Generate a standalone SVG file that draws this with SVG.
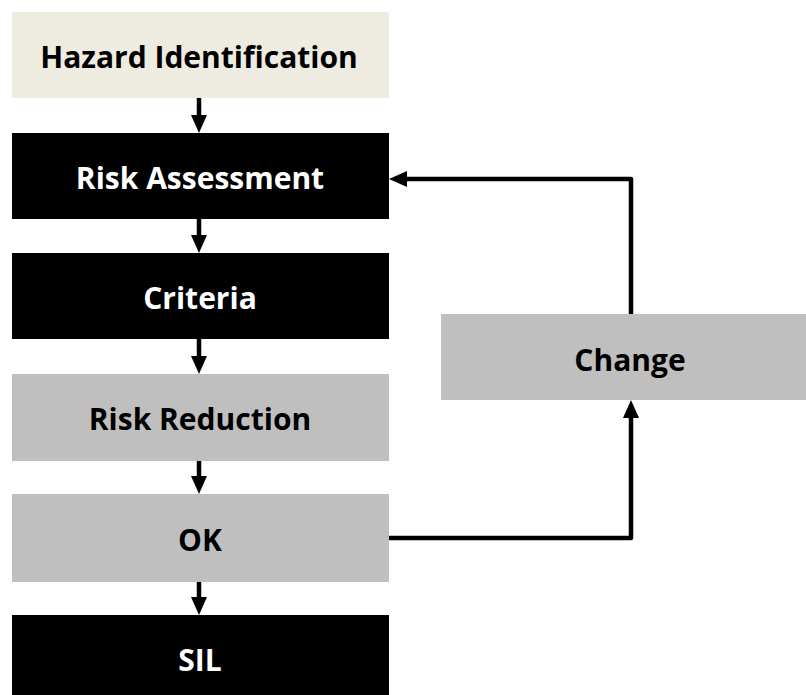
<svg xmlns="http://www.w3.org/2000/svg" width="806" height="695" viewBox="0 0 806 695">
<style>
  .lbl { font-family: "Open Sans", "Liberation Sans", sans-serif; font-weight: bold; font-size: 30px; text-anchor: middle; }
  .dark rect { fill: #000000; }
  .dark text { fill: #FFFFFF; }
  .grey rect { fill: #BFBFBF; }
  .grey text { fill: #000000; }
  .beige rect { fill: #EEECE1; }
  .beige text { fill: #000000; }
  .conn { fill: none; stroke: #000000; stroke-width: 4.5; stroke-linejoin: round; }
</style>
<defs>
  <marker id="ah" markerUnits="userSpaceOnUse" markerWidth="18" markerHeight="16" refX="2" refY="8" orient="auto">
    <path d="M0,0 L18,8 L0,16 z" fill="#000000"/>
  </marker>
</defs>
<rect width="806" height="695" fill="#FFFFFF"/>
<g id="hazard" class="beige">
  <rect x="12" y="12" width="377" height="86"/>
  <text class="lbl" x="199" y="68">Hazard Identification</text>
</g>
<g id="risk-assessment" class="dark">
  <rect x="12" y="133" width="377" height="86"/>
  <text class="lbl" x="200" y="189">Risk Assessment</text>
</g>
<g id="criteria" class="dark">
  <rect x="12" y="253" width="377" height="86"/>
  <text class="lbl" x="200" y="309">Criteria</text>
</g>
<g id="risk-reduction" class="grey">
  <rect x="12" y="374" width="377" height="87"/>
  <text class="lbl" x="200" y="430">Risk Reduction</text>
</g>
<g id="ok" class="grey">
  <rect x="12" y="494" width="377" height="88"/>
  <text class="lbl" x="200" y="551">OK</text>
</g>
<g id="sil" class="dark">
  <rect x="12" y="615" width="377" height="86"/>
  <text class="lbl" x="200" y="671">SIL</text>
</g>
<g id="change" class="grey">
  <rect x="441" y="314" width="380" height="86"/>
  <text class="lbl" x="630" y="371">Change</text>
</g>
<g id="connectors">
  <path class="conn" d="M199,98 V117" marker-end="url(#ah)"/>
  <path class="conn" d="M199,219 V237" marker-end="url(#ah)"/>
  <path class="conn" d="M199,339 V358" marker-end="url(#ah)"/>
  <path class="conn" d="M199,461 V478" marker-end="url(#ah)"/>
  <path class="conn" d="M199,582 V599" marker-end="url(#ah)"/>
  <path class="conn" d="M389,538 H631 V416" marker-end="url(#ah)"/>
  <path class="conn" d="M631,314 V179 H405" marker-end="url(#ah)"/>
</g>
</svg>
